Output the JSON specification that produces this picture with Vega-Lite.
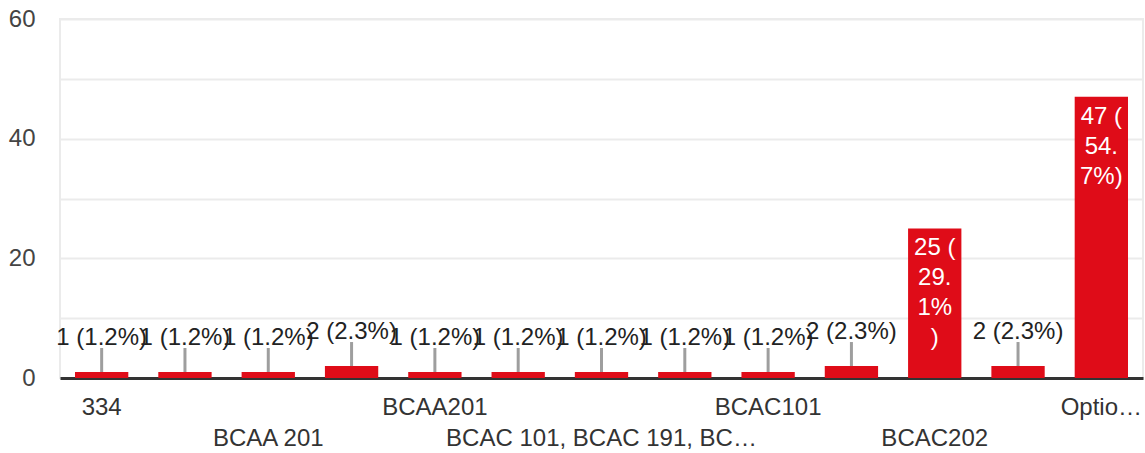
{
  "$schema": "https://vega.github.io/schema/vega-lite/v6.json",
  "width": 1083,
  "height": 359,
  "autosize": {"type": "none"},
  "padding": {"left": 60, "top": 19, "right": 2, "bottom": 75},
  "background": "white",
  "config": {
    "font": "Liberation Sans",
    "view": {"stroke": "#ebebeb", "strokeWidth": 2}
  },
  "data": {
    "values": [
      {"option": "334", "count": 1, "label": "1 (1.2%)"},
      {"option": "option 2", "count": 1, "label": "1 (1.2%)"},
      {"option": "BCAA 201", "count": 1, "label": "1 (1.2%)"},
      {"option": "option 4", "count": 2, "label": "2 (2.3%)"},
      {"option": "BCAA201", "count": 1, "label": "1 (1.2%)"},
      {"option": "option 6", "count": 1, "label": "1 (1.2%)"},
      {"option": "BCAC 101, BCAC 191, BC…", "count": 1, "label": "1 (1.2%)"},
      {"option": "option 8", "count": 1, "label": "1 (1.2%)"},
      {"option": "BCAC101", "count": 1, "label": "1 (1.2%)"},
      {"option": "option 10", "count": 2, "label": "2 (2.3%)"},
      {"option": "BCAC202", "count": 25, "label": "25 (\n29.\n1%\n)"},
      {"option": "option 12", "count": 2, "label": "2 (2.3%)"},
      {"option": "Optio…", "count": 47, "label": "47 (\n54.\n7%)"}
    ]
  },
  "encoding": {
    "x": {
      "field": "option",
      "type": "nominal",
      "sort": null,
      "scale": {"paddingInner": 0.36, "paddingOuter": 0.18},
      "axis": {
        "title": null,
        "labelAngle": 0,
        "ticks": false,
        "grid": false,
        "domainColor": "#333333",
        "domainWidth": 3,
        "labelFontSize": 24,
        "labelColor": "#333333",
        "labelPadding": 17,
        "labelLineHeight": 31,
        "labelOverlap": false,
        "labelLimit": 0,
        "labelExpr": "indexof(['BCAA 201','BCAC 101, BCAC 191, BC…','BCAC202'], datum.value) >= 0 ? ['', datum.value] : (indexof(['334','BCAA201','BCAC101','Optio…'], datum.value) >= 0 ? datum.value : '')"
      }
    },
    "y": {
      "field": "count",
      "type": "quantitative",
      "scale": {"domain": [0, 60], "nice": false},
      "axis": {
        "title": null,
        "values": [0, 10, 20, 30, 40, 50, 60],
        "labelExpr": "datum.value % 20 == 0 ? datum.label : ''",
        "ticks": false,
        "domain": false,
        "gridColor": "#ebebeb",
        "gridWidth": 2,
        "labelFontSize": 24,
        "labelColor": "#444444",
        "labelPadding": 25
      }
    }
  },
  "layer": [
    {"mark": {"type": "bar", "color": "#df0c18"}},
    {
      "transform": [{"filter": "datum.count < 10"}],
      "mark": {"type": "rule", "color": "#9e9e9e", "strokeWidth": 3, "y2Offset": -24},
      "encoding": {"y2": {"field": "count"}}
    },
    {
      "transform": [{"filter": "datum.count < 10"}],
      "mark": {"type": "text", "fontSize": 24, "color": "#222222", "baseline": "alphabetic", "dy": -27},
      "encoding": {"text": {"field": "label"}}
    },
    {
      "transform": [{"filter": "datum.count >= 10"}],
      "mark": {"type": "text", "fontSize": 24, "color": "#ffffff", "baseline": "alphabetic", "dy": 27, "lineBreak": "\n", "lineHeight": 30},
      "encoding": {"text": {"field": "label"}}
    }
  ]
}
